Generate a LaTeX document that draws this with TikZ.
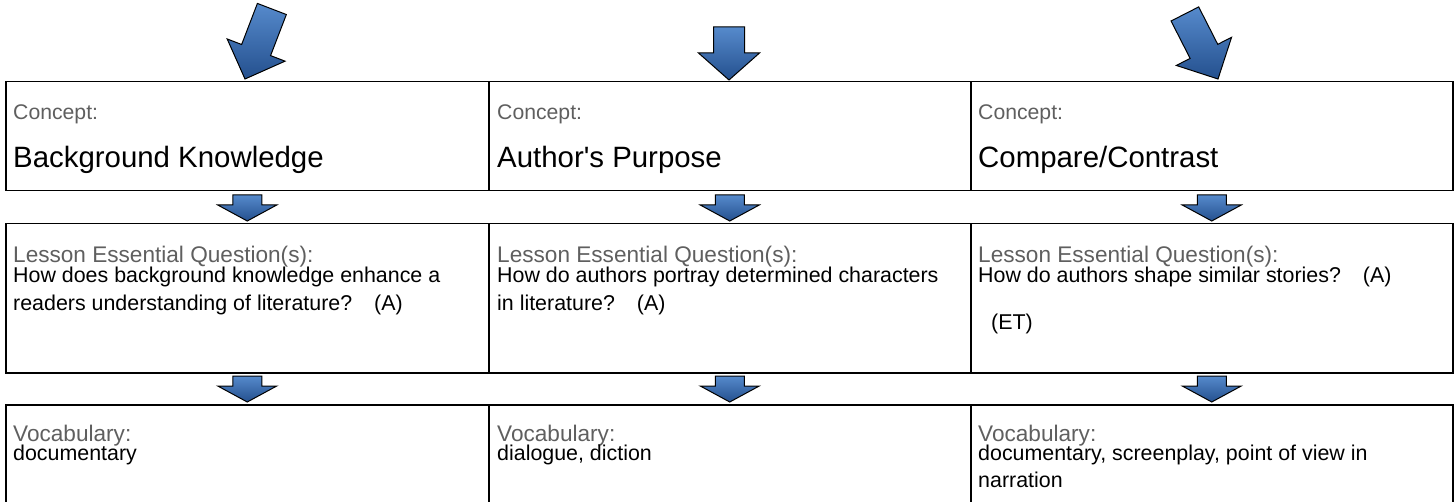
\documentclass[tikz,border=0pt]{standalone}
\usepackage{fontspec}
\setmainfont{Liberation Sans}
\newfontfamily\plainsans{Liberation Sans}
\usetikzlibrary{calc}
\definecolor{labelgrey}{RGB}{95,95,95}
\definecolor{arrtop}{RGB}{86,138,204}
\definecolor{arrbot}{RGB}{36,80,142}
\tikzset{
  box/.style={draw, line width=1.5pt, inner sep=0, anchor=north west},
  lbl/.style={anchor=base west, inner sep=0, text=labelgrey, font=\fontsize{22.6}{26}\selectfont},
  conlbl/.style={anchor=base west, inner sep=0, text=labelgrey, font=\fontsize{21.2}{24}\selectfont},
  body/.style={anchor=base west, inner sep=0, font=\fontsize{21.4}{27}\selectfont},
  big/.style={anchor=base west, inner sep=0, font=\plainsans\fontsize{29.4}{34}\selectfont},
  arrowfill/.style={top color=arrtop, bottom color=arrbot, draw=black, line width=1pt, line join=miter},
  pics/blockarr/.style n args={4}{code={
    \shadedraw[arrowfill] (0,0) -- (#4/2,-#2) -- (#3/2,-#2) -- (#3/2,-#1)
      -- (-#3/2,-#1) -- (-#3/2,-#2) -- (-#4/2,-#2) -- cycle;
  }}
}
\begin{document}
\begin{tikzpicture}[x=1pt,y=-1pt]
\useasboundingbox (0,0) rectangle (1455,502);
% boxes
\node[box, minimum width=483pt, minimum height=109pt] (c1) at (5,81) {};
\node[box, minimum width=482pt, minimum height=109pt] (c2) at (488,81) {};
\node[box, minimum width=482pt, minimum height=109pt] (c3) at (970,81) {};
\node[box, minimum width=483pt, minimum height=149pt] (q1) at (5,223) {};
\node[box, minimum width=482pt, minimum height=149pt] (q2) at (488,223) {};
\node[box, minimum width=482pt, minimum height=149pt] (q3) at (970,223) {};
\node[box, minimum width=483pt, minimum height=110pt] (v1) at (5,404) {};
\node[box, minimum width=482pt, minimum height=110pt] (v2) at (488,404) {};
\node[box, minimum width=482pt, minimum height=110pt] (v3) at (970,404) {};

% top arrows
\pic[rotate=-21] at (245,79) {blockarr={75}{31}{31}{62}};
\pic at (729,80) {blockarr={53}{27}{31}{61}};
\pic[rotate=27] at (1218,79) {blockarr={73}{31}{31}{62}};

% arrows between rows
\foreach \a/\b in {c1/q1,c2/q2,c3/q3,q1/v1,q2/v2,q3/v3}{
  \pic at ($(\b.north)+(0,-2)$) {blockarr={26}{16}{29}{59}};
}

% row 1 texts
\node[conlbl] (c1l) at ($(c1.north west)+(8,39)$) {Concept:};
\node[big] (c1b) at ($(c1.north west)+(8,87)$) {Background Knowledge};
\node[conlbl] (c2l) at ($(c2.north west)+(9,39)$) {Concept:};
\node[big] (c2b) at ($(c2.north west)+(9,87)$) {Author's Purpose};
\node[conlbl] (c3l) at ($(c3.north west)+(8,39)$) {Concept:};
\node[big] (c3b) at ($(c3.north west)+(8,87)$) {Compare/Contrast};

% row 2 texts
\node[lbl] (q1l) at ($(q1.north west)+(8,40)$) {Lesson Essential Question(s):};
\node[body] (q1a) at ($(q1.north west)+(8,60)$) {How does background knowledge enhance a};
\node[body] (q1b) at ($(q1.north west)+(8,87)$) {readers understanding of literature?\hspace{22pt}(A)};
\node[lbl] (q2l) at ($(q2.north west)+(9,40)$) {Lesson Essential Question(s):};
\node[body] (q2a) at ($(q2.north west)+(9,60)$) {How do authors portray determined characters};
\node[body] (q2b) at ($(q2.north west)+(9,87)$) {in literature?\hspace{22pt}(A)};
\node[lbl] (q3l) at ($(q3.north west)+(8,40)$) {Lesson Essential Question(s):};
\node[body] (q3a) at ($(q3.north west)+(8,60)$) {How do authors shape similar stories?\hspace{22pt}(A)};
\node[body] (q3b) at ($(q3.north west)+(21,106)$) {(ET)};

% row 3 texts
\node[lbl] (v1l) at ($(v1.north west)+(8,37)$) {Vocabulary:};
\node[body] (v1a) at ($(v1.north west)+(8,56)$) {documentary};
\node[lbl] (v2l) at ($(v2.north west)+(9,37)$) {Vocabulary:};
\node[body] (v2a) at ($(v2.north west)+(9,56)$) {dialogue, diction};
\node[lbl] (v3l) at ($(v3.north west)+(8,37)$) {Vocabulary:};
\node[body] (v3a) at ($(v3.north west)+(8,56)$) {documentary, screenplay, point of view in};
\node[body] (v3b) at ($(v3.north west)+(8,83)$) {narration};
\end{tikzpicture}
\end{document}
